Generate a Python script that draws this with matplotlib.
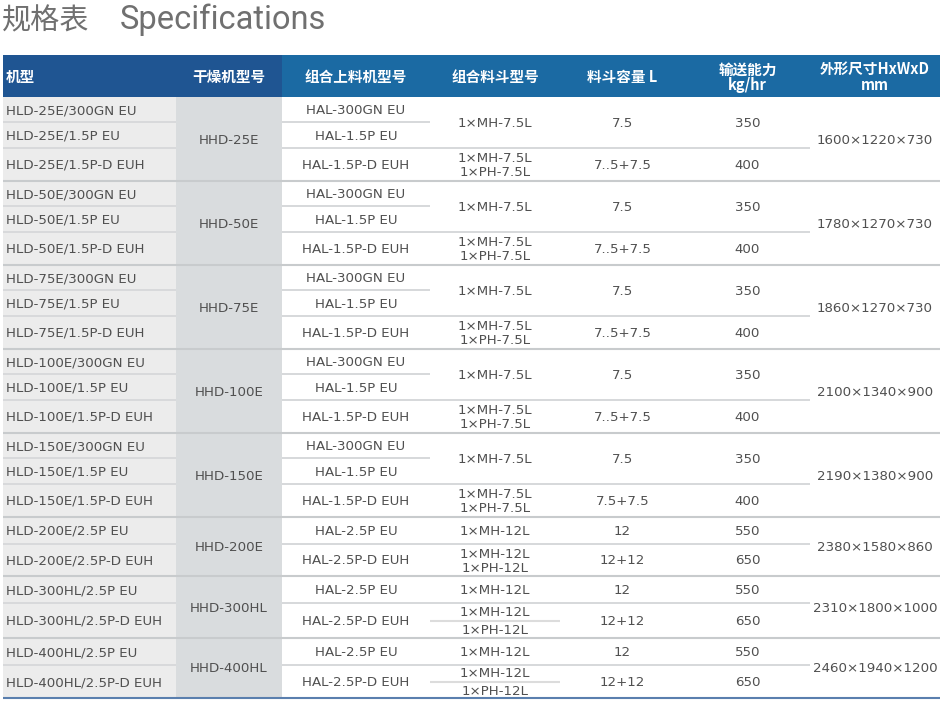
import matplotlib.pyplot as plt
from matplotlib.patches import Rectangle

plt.rcParams["font.family"] = ["DejaVu Sans", "Noto Sans CJK SC"]

# ---- table data ----
headers = ["机型", "干燥机型号", "组合上料机型号", "组合料斗型号", "料斗容量 L",
           "输送能力\nkg/hr", "外形尺寸HxWxD\nmm"]
models = [
    "HLD-25E/300GN EU", "HLD-25E/1.5P EU", "HLD-25E/1.5P-D EUH",
    "HLD-50E/300GN EU", "HLD-50E/1.5P EU", "HLD-50E/1.5P-D EUH",
    "HLD-75E/300GN EU", "HLD-75E/1.5P EU", "HLD-75E/1.5P-D EUH",
    "HLD-100E/300GN EU", "HLD-100E/1.5P EU", "HLD-100E/1.5P-D EUH",
    "HLD-150E/300GN EU", "HLD-150E/1.5P EU", "HLD-150E/1.5P-D EUH",
    "HLD-200E/2.5P EU", "HLD-200E/2.5P-D EUH",
    "HLD-300HL/2.5P EU", "HLD-300HL/2.5P-D EUH",
    "HLD-400HL/2.5P EU", "HLD-400HL/2.5P-D EUH",
]
loaders = [
    "HAL-300GN EU", "HAL-1.5P EU", "HAL-1.5P-D EUH",
    "HAL-300GN EU", "HAL-1.5P EU", "HAL-1.5P-D EUH",
    "HAL-300GN EU", "HAL-1.5P EU", "HAL-1.5P-D EUH",
    "HAL-300GN EU", "HAL-1.5P EU", "HAL-1.5P-D EUH",
    "HAL-300GN EU", "HAL-1.5P EU", "HAL-1.5P-D EUH",
    "HAL-2.5P EU", "HAL-2.5P-D EUH",
    "HAL-2.5P EU", "HAL-2.5P-D EUH",
    "HAL-2.5P EU", "HAL-2.5P-D EUH",
]
dryers = ["HHD-25E", "HHD-50E", "HHD-75E", "HHD-100E", "HHD-150E",
          "HHD-200E", "HHD-300HL", "HHD-400HL"]
group_sizes = [3, 3, 3, 3, 3, 2, 2, 2]
hopper_single = ["1×MH-7.5L"] * 5 + ["1×MH-12L"] * 3
hopper_dual = [("1×MH-7.5L", "1×PH-7.5L")] * 5 + [("1×MH-12L", "1×PH-12L")] * 3
cap_single = ["7.5", "7.5", "7.5", "7.5", "7.5", "12", "12", "12"]
cap_dual = ["7..5+7.5", "7..5+7.5", "7..5+7.5", "7..5+7.5", "7.5+7.5",
            "12+12", "12+12", "12+12"]
thr_single = ["350", "350", "350", "350", "350", "550", "550", "550"]
thr_dual = ["400", "400", "400", "400", "400", "650", "650", "650"]
dims = ["1600×1220×730", "1780×1270×730", "1860×1270×730", "2100×1340×900",
        "2190×1380×900", "2380×1580×860", "2310×1800×1000", "2460×1940×1200"]

# ---- layout (pixels) ----
col_x = [3, 176, 282, 430, 560, 685, 810, 940]
head_top, head_bot = 55, 97
h3 = [25, 26, 33]
h2_list = [[27, 32], [27, 35], [27, 33]]
txt = "#505050"
grid = "#cfd2d4"
fs = 9.6

fig = plt.figure(figsize=(9.51, 7.02), dpi=100)
ax = fig.add_axes([0, 0, 1, 1])
ax.set_xlim(0, 951)
ax.set_ylim(702, 0)
ax.axis("off")

ax.text(2, 21, "规格表", fontsize=21, color="#707070", va="center",
        family=["Noto Sans CJK SC"])
ax.text(120, 20, "Specifications", fontsize=23.5, color="#707070", va="center",
        family=["Roboto"])

# header
ax.add_patch(Rectangle((col_x[0], head_top), col_x[2] - col_x[0], head_bot - head_top,
                       color="#1f5592", lw=0))
ax.add_patch(Rectangle((col_x[2], head_top), col_x[7] - col_x[2], head_bot - head_top,
                       color="#1b6aa3", lw=0))
hc = (head_top + head_bot) / 2
for i, h in enumerate(headers):
    x = 6 if i == 0 else (col_x[i] + col_x[i + 1]) / 2
    ax.text(x, hc + 1, h, color="white", fontsize=10.5, fontweight="bold",
            ha="left" if i == 0 else "center", va="center", linespacing=0.95,
            family=["Noto Sans CJK SC"])


def center(x0, x1, y, s):
    ax.text((x0 + x1) / 2, y + 1, s, color=txt, fontsize=fs, ha="center", va="center")


def hline(x0, x1, y, color=grid, lw=1.2):
    ax.plot([x0, x1], [y, y], color=color, lw=lw, solid_capstyle="butt")


y = head_bot
r = 0
k2 = 0
for g, n in enumerate(group_sizes):
    if n == 3:
        hs = h3
    else:
        hs = h2_list[k2]
        k2 += 1
    tops = [y]
    for h in hs:
        tops.append(tops[-1] + h)
    gy0, gy1 = tops[0], tops[-1]
    ax.add_patch(Rectangle((col_x[0], gy0), col_x[1] - col_x[0], gy1 - gy0,
                           color="#ececec", lw=0))
    ax.add_patch(Rectangle((col_x[1], gy0), col_x[2] - col_x[1], gy1 - gy0,
                           color="#d9dcde", lw=0))
    for j in range(n):
        cy = (tops[j] + tops[j + 1]) / 2
        ax.text(6, cy + 1, models[r + j], color=txt, fontsize=fs, va="center")
        center(col_x[2], col_x[3], cy, loaders[r + j])
        if j < n - 1:
            hline(col_x[0], col_x[1], tops[j + 1], "#d4d6d8")
    center(col_x[1], col_x[2], (gy0 + gy1) / 2, dryers[g])
    center(col_x[6], col_x[7], (gy0 + gy1) / 2, dims[g])
    # single-hopper block
    s1 = tops[n - 1]
    sc = (gy0 + s1) / 2
    center(col_x[3], col_x[4], sc, hopper_single[g])
    center(col_x[4], col_x[5], sc, cap_single[g])
    center(col_x[5], col_x[6], sc, thr_single[g])
    if n == 3:
        hline(col_x[2], col_x[3], tops[1])
    hline(col_x[2], col_x[6], s1)
    # dual-hopper block
    dc = (s1 + gy1) / 2
    off = 7 if g < 6 else 9
    center(col_x[3], col_x[4], dc - off, hopper_dual[g][0])
    center(col_x[3], col_x[4], dc + off, hopper_dual[g][1])
    if g >= 6:
        hline(col_x[3], col_x[4], dc, "#dcdcdc", 1.5)
    center(col_x[4], col_x[5], dc, cap_dual[g])
    center(col_x[5], col_x[6], dc, thr_dual[g])
    if g < len(group_sizes) - 1:
        hline(col_x[0], col_x[7], gy1, "#c8cbcd", 1.5)
    r += n
    y = gy1

hline(col_x[0], col_x[7], y, "#5a7fae", 1.5)

fig.savefig("out.png", dpi=100)
